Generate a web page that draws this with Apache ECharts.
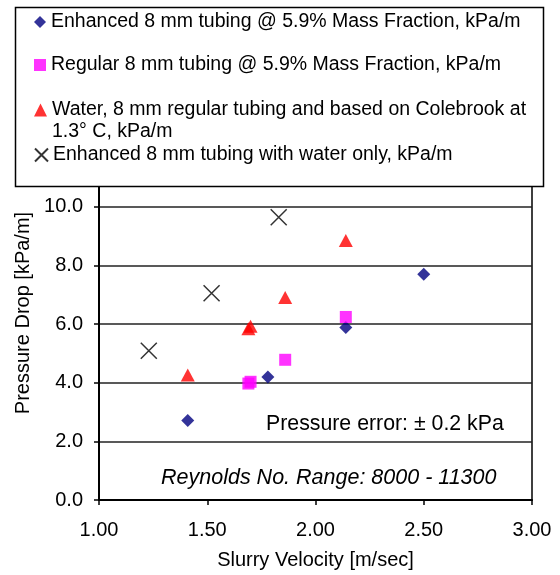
<!DOCTYPE html>
<html>
<head>
<meta charset="utf-8">
<script src="https://cdn.jsdelivr.net/npm/echarts@6/dist/echarts.min.js"></script>
<style>html,body{margin:0;padding:0;background:#fff;}#c{width:560px;height:575px;}</style>
</head>
<body>
<div id="c"></div>
<script>
var seriesNames = [
  'Enhanced 8 mm tubing @ 5.9% Mass Fraction, kPa/m',
  'Regular 8 mm tubing @ 5.9% Mass Fraction, kPa/m',
  'Water, 8 mm regular tubing and based on Colebrook at 1.3° C, kPa/m',
  'Enhanced 8 mm tubing with water only, kPa/m'
];
var enhancedSlurry = [[1.41, 2.71], [1.78, 4.19], [2.14, 5.88], [2.50, 7.70]];
var regularSlurry = [[1.69, 3.97], [1.70, 4.03], [1.86, 4.78], [2.14, 6.24]];
var waterColebrook = [[1.41, 4.26], [1.69, 5.84], [1.70, 5.92], [1.86, 6.90], [2.14, 8.85]];
var enhancedWater = [[1.23, 5.09], [1.52, 7.05], [1.83, 9.64]];
var xTicks = [1.00, 1.50, 2.00, 2.50, 3.00];
var yTicks = [0, 2, 4, 6, 8, 10, 12];

var FONT = 'Liberation Sans, Arial, sans-serif';
var xPath = 'path://M0,0L10,10M10,0L0,10';

var chart = echarts.init(document.getElementById('c'), null, {renderer: 'canvas'});

function legendAt(name, top, icon, w, h, textFmt) {
  return {
    data: [{name: name, icon: icon}],
    left: 34, top: top, padding: 0,
    itemWidth: w, itemHeight: h, itemGap: 5,
    selectedMode: false,
    z: 6,
    textStyle: {fontFamily: FONT, fontSize: 19.5, color: '#000'},
    formatter: textFmt || function (n) { return n; }
  };
}

var option = {
  animation: false,
  backgroundColor: '#fff',
  grid: {left: 99, right: 28, top: 148, bottom: 75, show: true, borderColor: '#000', borderWidth: 1.5, backgroundColor: 'transparent'},
  xAxis: {
    type: 'value', min: xTicks[0], max: xTicks[xTicks.length - 1], interval: 0.5,
    name: 'Slurry Velocity [m/sec]', nameLocation: 'middle', nameGap: 50,
    nameTextStyle: {fontFamily: FONT, fontSize: 20, color: '#000'},
    axisLine: {show: true, lineStyle: {color: '#000', width: 2}},
    axisTick: {show: true, inside: false, length: 5, lineStyle: {color: '#000', width: 1.5}},
    axisLabel: {fontFamily: FONT, fontSize: 20, color: '#000', margin: 20, formatter: function (v) { return v.toFixed(2); }},
    splitLine: {show: false}
  },
  yAxis: {
    type: 'value', min: yTicks[0], max: yTicks[yTicks.length - 1], interval: 2,
    name: 'Pressure Drop [kPa/m]', nameLocation: 'middle', nameGap: 65,
    nameTextStyle: {fontFamily: FONT, fontSize: 20, color: '#000', padding: [0, 0, 0, 22]},
    axisLine: {show: true, lineStyle: {color: '#000', width: 2}},
    axisTick: {show: true, inside: false, length: 5, lineStyle: {color: '#000', width: 1.5}},
    axisLabel: {fontFamily: FONT, fontSize: 20, color: '#000', margin: 16, formatter: function (v) { return v.toFixed(1); }},
    splitLine: {show: true, lineStyle: {color: '#222', width: 1.5}}
  },
  legend: [
    legendAt(seriesNames[0], 12, 'diamond', 12, 12),
    legendAt(seriesNames[1], 55, 'rect', 12, 12),
    legendAt(seriesNames[2], 100, 'triangle', 13, 13, function () { return 'Water, 8 mm regular tubing and based on Colebrook at'; }),
    legendAt(seriesNames[3], 145, xPath, 13, 13)
  ],
  graphic: [
    {type: 'rect', z: 5, shape: {x: 15.5, y: 7.5, width: 528, height: 179}, style: {fill: '#fff', stroke: '#000', lineWidth: 1.5}},
    {type: 'text', z: 7, left: 52, top: 122, style: {text: '1.3° C, kPa/m', font: '19.5px ' + FONT, fill: '#000'}},
    {type: 'text', z: 7, left: 266, top: 414, style: {text: 'Pressure error: ± 0.2 kPa', font: '21.3px ' + FONT, fill: '#000'}},
    {type: 'text', z: 7, left: 161, top: 467, style: {text: 'Reynolds No. Range: 8000 - 11300', font: 'italic 21.5px ' + FONT, fill: '#000'}}
  ],
  series: [
    {name: seriesNames[0], type: 'scatter', data: enhancedSlurry, symbol: 'diamond', symbolSize: 13,
      itemStyle: {color: '#000080'}},
    {name: seriesNames[1], type: 'scatter', data: regularSlurry, symbol: 'rect', symbolSize: 12,
      itemStyle: {color: '#FF00FF'}},
    {name: seriesNames[2], type: 'scatter', data: waterColebrook, symbol: 'triangle', symbolSize: [14, 13],
      itemStyle: {color: '#FF0000'}},
    {name: seriesNames[3], type: 'scatter', data: enhancedWater, symbol: xPath, symbolSize: 16,
      itemStyle: {color: 'transparent', borderColor: '#000', borderWidth: 1.5}}
  ]
};
chart.setOption(option);
</script>
</body>
</html>
